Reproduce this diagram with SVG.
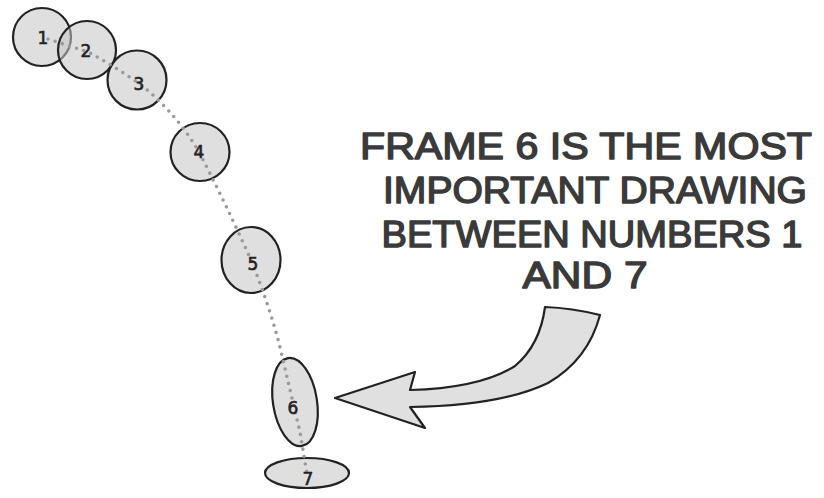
<svg xmlns="http://www.w3.org/2000/svg" width="824" height="498" viewBox="0 0 824 498">
<style>
.frame{fill:#c4c4c4;fill-opacity:0.55;stroke:#222;stroke-width:2.2}
.num{font-family:"DejaVu Sans",sans-serif;font-size:17px;fill:#222;stroke:#222;stroke-width:0.6;text-anchor:middle}
.cap{font-family:"Liberation Sans",Arial,sans-serif;font-size:36px;fill:#3a3a3a;stroke:#3a3a3a;stroke-width:1.4;stroke-linejoin:round;text-anchor:middle}
.path{fill:none;stroke:#9a9a9a;stroke-width:3.6;stroke-linecap:round;stroke-dasharray:0 7.5}
</style>
<rect width="824" height="498" fill="#fff"/>
<g id="frame-1"><circle class="frame" cx="42" cy="37" r="29"/></g>
<g id="frame-2"><circle class="frame" cx="87" cy="50" r="29"/></g>
<g id="frame-3"><circle class="frame" cx="137" cy="80" r="29.5"/></g>
<g id="frame-4"><ellipse class="frame" cx="200" cy="152" rx="29.5" ry="29"/></g>
<g id="frame-5"><ellipse class="frame" cx="251" cy="260" rx="29.5" ry="33"/></g>
<g id="frame-6"><ellipse class="frame" cx="295" cy="402" rx="22" ry="44.5" transform="rotate(-9 295 402)"/></g>
<g id="frame-7"><ellipse class="frame" cx="307" cy="473" rx="42" ry="15"/></g>
<g id="connectors">
<path class="path" d="M48,39 L88,52 Q118,68 145,88 Q180,118 200,154 Q224,200 251,260 Q268,302 279,343 Q290,390 300,432 L307,474"/>
</g>
<g id="labels">
<text class="num" x="43" y="44">1</text>
<text class="num" x="86" y="57">2</text>
<text class="num" x="139" y="90">3</text>
<text class="num" x="199" y="158">4</text>
<text class="num" x="253" y="270">5</text>
<text class="num" x="293" y="414">6</text>
<text class="num" x="308" y="485">7</text>
</g>
<g id="arrow">
<path d="M545,307 Q572,308 600,315 Q588,360 548,383 Q500,406 410,407 L425,428 L335,398 L415,372 L410,390 Q480,388 515,366 Q540,345 545,307 Z" fill="#e0e0e0" stroke="#222" stroke-width="2.2" stroke-linejoin="round"/>
</g>
<g id="caption">
<text class="cap" x="586" y="159" textLength="452" lengthAdjust="spacingAndGlyphs">FRAME 6 IS THE MOST</text>
<text class="cap" x="595" y="203" textLength="424" lengthAdjust="spacingAndGlyphs">IMPORTANT DRAWING</text>
<text class="cap" x="592" y="247" textLength="421" lengthAdjust="spacingAndGlyphs">BETWEEN NUMBERS 1</text>
<text class="cap" x="585" y="288" textLength="125" lengthAdjust="spacingAndGlyphs">AND 7</text>
</g>
</svg>
